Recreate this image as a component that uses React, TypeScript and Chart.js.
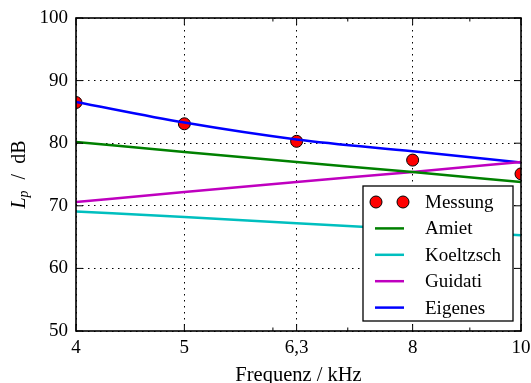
import React, { useEffect, useRef } from "react";
import { Chart, registerables } from "chart.js";

Chart.register(...registerables);

const freqs = [4, 5, 6.3, 8, 10];
const xTickValues = [4, 5, 6.3, 8, 10];
const xMinorTicks = [6, 7, 9];
const yTickValues = [50, 60, 70, 80, 90, 100];

const messung = [86.5, 83.1, 80.3, 77.3, 75.1];
const amiet = [80.2, 78.6, 77.0, 75.4, 73.8];
const koeltzsch = [69.1, 68.2, 67.2, 66.2, 65.3];
const guidati = [70.6, 72.2, 73.8, 75.4, 77.0];
const eigenes = [86.6, 83.3, 80.6, 78.7, 76.9];

const seriesNames = ["Messung", "Amiet", "Koeltzsch", "Guidati", "Eigenes"];
const seriesColors = ["#ff0000", "#008000", "#00bfbf", "#bf00bf", "#0000ff"];

const FONT = "'Liberation Serif', 'DejaVu Serif', serif";
const FS = 19;

const toPts = (ys: number[]) => freqs.map((x, i) => ({ x, y: ys[i] }));

const framePlugin = {
  id: "frame",
  afterDatasetsDraw(chart: any) {
    const { ctx, chartArea: a, scales } = chart;
    const xs = scales.x;
    const ys = scales.y;
    ctx.save();
    ctx.strokeStyle = "#000";
    ctx.lineWidth = 1;
    ctx.beginPath();
    const major = 7;
    const minor = 3.5;
    xTickValues.forEach((v) => {
      const px = xs.getPixelForValue(v);
      ctx.moveTo(px, a.bottom);
      ctx.lineTo(px, a.bottom - major);
      ctx.moveTo(px, a.top);
      ctx.lineTo(px, a.top + major);
    });
    xMinorTicks.forEach((v) => {
      const px = xs.getPixelForValue(v);
      ctx.moveTo(px, a.bottom);
      ctx.lineTo(px, a.bottom - minor);
      ctx.moveTo(px, a.top);
      ctx.lineTo(px, a.top + minor);
    });
    yTickValues.forEach((v) => {
      const py = ys.getPixelForValue(v);
      ctx.moveTo(a.left, py);
      ctx.lineTo(a.left + major, py);
      ctx.moveTo(a.right, py);
      ctx.lineTo(a.right - major, py);
    });
    ctx.stroke();
    ctx.lineWidth = 1.6;
    ctx.strokeRect(a.left, a.top, a.right - a.left, a.bottom - a.top);

    // legend
    const lx = 363;
    const ly = 186;
    const lw = 150;
    const lh = 135;
    ctx.fillStyle = "#fff";
    ctx.fillRect(lx, ly, lw, lh);
    ctx.lineWidth = 1.3;
    ctx.strokeStyle = "#000";
    ctx.strokeRect(lx, ly, lw, lh);
    ctx.font = `${FS}px ${FONT}`;
    ctx.textBaseline = "middle";
    ctx.textAlign = "left";
    seriesNames.forEach((name, i) => {
      const cy = ly + 16 + i * 26.4;
      if (i === 0) {
        [376, 403].forEach((cx) => {
          ctx.beginPath();
          ctx.arc(cx, cy, 6, 0, Math.PI * 2);
          ctx.fillStyle = seriesColors[0];
          ctx.fill();
          ctx.lineWidth = 1;
          ctx.strokeStyle = "#000";
          ctx.stroke();
        });
      } else {
        ctx.beginPath();
        ctx.moveTo(375, cy);
        ctx.lineTo(404, cy);
        ctx.lineWidth = 2.5;
        ctx.strokeStyle = seriesColors[i];
        ctx.stroke();
      }
      ctx.fillStyle = "#000";
      ctx.fillText(name, 425, cy + 1);
    });

    // x title
    ctx.textAlign = "center";
    ctx.textBaseline = "alphabetic";
    ctx.fillStyle = "#000";
    ctx.font = `20.5px ${FONT}`;
    ctx.fillText("Frequenz / kHz", (a.left + a.right) / 2, 381);

    // y title
    ctx.save();
    ctx.translate(25, (a.top + a.bottom) / 2);
    ctx.rotate(-Math.PI / 2);
    ctx.textAlign = "left";
    const fItal = `italic 20px ${FONT}`;
    const fSub = `italic 14px ${FONT}`;
    const fReg = `20px ${FONT}`;
    const rest = "  /  dB";
    ctx.font = fItal;
    const wL = ctx.measureText("L").width;
    ctx.font = fSub;
    const wp = ctx.measureText("p").width;
    ctx.font = fReg;
    const wr = ctx.measureText(rest).width;
    let x0 = -(wL + wp + 1 + wr) / 2;
    ctx.font = fItal;
    ctx.fillText("L", x0, 0);
    x0 += wL;
    ctx.font = fSub;
    ctx.fillText("p", x0, 3);
    x0 += wp + 1;
    ctx.font = fReg;
    ctx.fillText(rest, x0, 0);
    ctx.restore();

    ctx.restore();
  },
};

export default function App() {
  const ref = useRef<HTMLCanvasElement | null>(null);
  useEffect(() => {
    if (!ref.current) return;
    const lineDs = (label: string, ys: number[], color: string) => ({
      label,
      data: toPts(ys),
      borderColor: color,
      backgroundColor: color,
      borderWidth: 2.5,
      pointRadius: 0,
      cubicInterpolationMode: "monotone" as const,
      fill: false,
    });
    const chart = new Chart(ref.current, {
      type: "line",
      data: {
        datasets: [
          lineDs(seriesNames[1], amiet, seriesColors[1]),
          lineDs(seriesNames[2], koeltzsch, seriesColors[2]),
          lineDs(seriesNames[3], guidati, seriesColors[3]),
          lineDs(seriesNames[4], eigenes, seriesColors[4]),
          {
            label: seriesNames[0],
            data: toPts(messung),
            showLine: false,
            pointRadius: 6,
            pointBackgroundColor: seriesColors[0],
            pointBorderColor: "#000",
            pointBorderWidth: 1,
            clip: 0,
          } as any,
        ],
      },
      options: {
        responsive: false,
        animation: false,
        events: [],
        layout: { padding: { top: 18, right: 10, left: 0, bottom: 0 } },
        plugins: { legend: { display: false }, tooltip: { enabled: false } },
        scales: {
          x: {
            type: "logarithmic",
            min: 4,
            max: 10,
            afterBuildTicks: (s: any) => {
              s.ticks = xTickValues.map((v) => ({ value: v }));
            },
            afterFit: (s: any) => {
              s.height = 52;
              s.paddingLeft = 0;
              s.paddingRight = 0;
            },
            ticks: {
              autoSkip: false,
              maxRotation: 0,
              minRotation: 0,
              padding: 6,
              color: "#000",
              font: { family: FONT, size: FS },
              callback: (v: any) => String(v).replace(".", ","),
            },
            grid: {
              color: "#000",
              lineWidth: 1,
              drawTicks: false,
            },
            border: { display: false, dash: [1.5, 4.5] },
          },
          y: {
            type: "linear",
            min: 50,
            max: 100,
            afterBuildTicks: (s: any) => {
              s.ticks = yTickValues.map((v) => ({ value: v }));
            },
            afterFit: (s: any) => {
              s.width = 76;
              s.paddingTop = 0;
              s.paddingBottom = 0;
            },
            ticks: {
              padding: 8,
              color: "#000",
              font: { family: FONT, size: FS },
            },
            grid: {
              color: "#000",
              lineWidth: 1,
              drawTicks: false,
            },
            border: { display: false, dash: [1.5, 4.5] },
          },
        },
      },
      plugins: [framePlugin],
    });
    return () => chart.destroy();
  }, []);
  return (
    <div style={{ position: "fixed", left: 0, top: 0, width: 531, height: 383, background: "#fff" }}>
      <canvas ref={ref} width={531} height={383} style={{ width: 531, height: 383, display: "block" }} />
    </div>
  );
}
